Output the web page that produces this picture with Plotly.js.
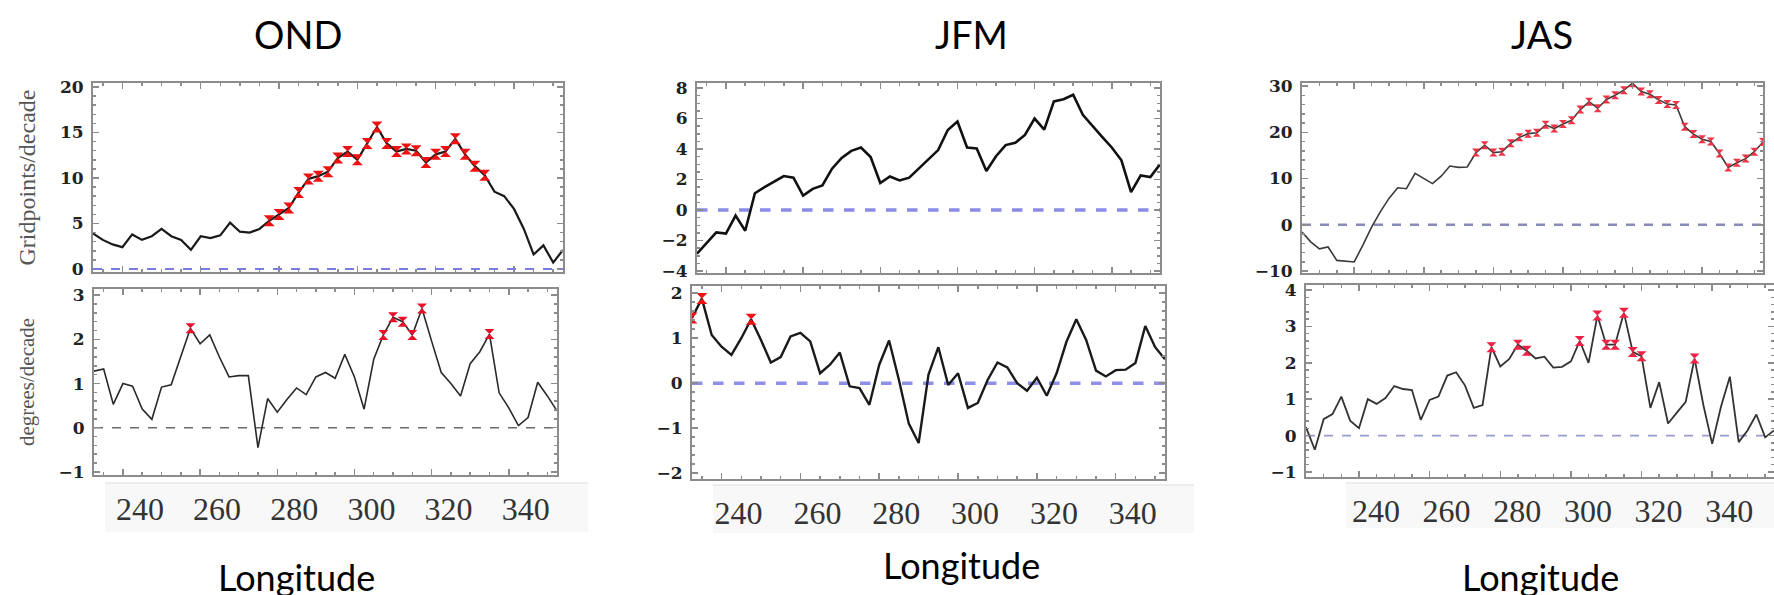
<!DOCTYPE html>
<html>
<head>
<meta charset="utf-8">
<script src="https://cdn.plot.ly/plotly-3.0.1.min.js"></script>
<style>
  html, body { margin: 0; padding: 0; background: #ffffff; }
  #chart { width: 1774px; height: 595px; }
</style>
</head>
<body>
<div id="chart"></div>
<script>
// ---------------- DATA ----------------
const seasons = ["OND", "JFM", "JAS"];
const xTitle = "Longitude";
const topTitle = "Gridpoints/decade";
const bottomTitle = "degrees/decade";
const xTickVals = [240, 260, 280, 300, 320, 340];

// longitudes (OND, JFM)
const lonA = [232.5,235,237.5,240,242.5,245,247.5,250,252.5,255,257.5,260,262.5,265,267.5,270,272.5,275,277.5,280,
  282.5,285,287.5,290,292.5,295,297.5,300,302.5,305,307.5,310,312.5,315,317.5,320,322.5,325,327.5,330,
  332.5,335,337.5,340,342.5,345,347.5,350,352.5];
// longitudes (JAS)
const lonJAS = [225,227.5,230,232.5,235,237.5,240,242.5,245,247.5,250,252.5,255,257.5,260,262.5,265,267.5,270,272.5,
  275,277.5,280,282.5,285,287.5,290,292.5,295,297.5,300,302.5,305,307.5,310,312.5,315,317.5,320,322.5,
  325,327.5,330,332.5,335,337.5,340,342.5,345,347.5,350,352.5,355,357.5];

// OND
const ondGrid = [3.9,3.2,2.7,2.4,3.8,3.2,3.6,4.4,3.6,3.2, 2.1,3.6,3.4,3.7,5.1,4.1,4.0,4.4,5.3,6.0,
  6.7,8.4,9.9,10.2,10.7,12.2,12.9,12.0,13.8,15.6, 13.8,12.9,13.2,13.0,11.7,12.6,12.9,14.3,12.6,11.3,
  10.3,8.5,8.0,6.6,4.4,1.6,2.6,0.7,2.1];
const ondGridSig = [18,19,20,21,22,23,24,25,26,27,28,29,30,31,32,33,34,35,36,37,38,39,40];
const ondDeg = [1.28,1.33,0.53,1.0,0.94,0.42,0.19,0.92,0.97,1.6, 2.25,1.9,2.1,1.6,1.15,1.18,1.18,-0.45,0.66,0.35,
  0.64,0.9,0.75,1.15,1.25,1.12,1.66,1.15,0.42,1.55, 2.1,2.5,2.4,2.1,2.7,1.96,1.25,1.0,0.72,1.45,
  1.72,2.12,0.79,0.45,0.05,0.23,1.03,0.72,0.38];
const ondDegSig = [10,30,31,32,33,34,41];

// JFM
const jfmGrid = [-2.86,-2.13,-1.47,-1.54,-0.37,-1.36,1.1,1.5,1.85,2.23, 2.12,0.95,1.39,1.61,2.71,3.42,3.88,4.1,3.48,1.77,
  2.2,1.94,2.12,2.71,3.3,3.93,5.25,5.8,4.1,4.03, 2.56,3.53,4.26,4.41,4.92,6.0,5.27,7.12,7.27,7.56,
  6.24,5.5,4.8,4.1,3.26,1.17,2.27,2.16,3.0];
const jfmGridSig = [];
const jfmDeg = [1.45,1.88,1.07,0.81,0.63,1.0,1.42,0.96,0.46,0.58, 1.04,1.12,0.93,0.22,0.41,0.68,-0.07,-0.11,-0.48,0.41,
  0.95,0.07,-0.9,-1.33,0.19,0.8,-0.04,0.22,-0.55,-0.44, 0.07,0.46,0.35,0,-0.17,0.12,-0.28,0.22,0.92,1.42,
  0.96,0.28,0.15,0.29,0.3,0.45,1.27,0.8,0.53];
const jfmDegSig = [0,1,6];

// JAS
const jasGrid = [-1.55,-3.7,-5.2,-4.8,-7.7,-7.8,-8.05,-4.4,-0.5,2.8, 5.7,8.0,7.8,11.1,10.0,8.9,10.5,12.7,12.4,12.5,
  15.6,17.2,15.6,15.8,17.6,18.9,19.7,19.9,21.6,20.8, 21.8,22.6,24.9,26.6,25.2,27.1,28.0,29.1,30.6,28.8,
  28.2,27.0,26.1,25.9,21.2,19.6,18.5,18.0,15.4,12.4, 13.4,14.3,15.8,17.9];
const jasGridSig = [20,21,22,23,24,25,26,27,28,29,30,31,32,33,34,35,36,37,38,39,40,41,42,43,44,45,46,47,48,49,50,51,52,53];
const jasDeg = [0.23,-0.39,0.45,0.59,1.07,0.41,0.2,1.0,0.87,1.03, 1.36,1.28,1.25,0.43,0.98,1.07,1.65,1.74,1.38,0.76,
  0.84,2.43,1.9,2.1,2.5,2.33,2.12,2.17,1.87,1.89, 2.04,2.6,2.0,3.3,2.5,2.5,3.38,2.3,2.18,0.76,
  1.47,0.33,0.63,0.93,2.12,0.84,-0.23,0.8,1.62,-0.18, 0.14,0.58,-0.05,0.14];
const jasDegSig = [21,24,25,31,33,34,35,36,37,38,44];

// ---------------- STYLE / LAYOUT ----------------
const W = 1774, H = 595;
const fx = p => p / W;
const fy = p => 1 - p / H;

const panels = [
  {lon: lonA,   y: ondGrid, sig: ondGridSig, xa: 'x',  ya: 'y',  lw: 2.2, lc: '#1a1a1a', ms: 11, mc: '#ee1111'},
  {lon: lonA,   y: ondDeg,  sig: ondDegSig,  xa: 'x2', ya: 'y2', lw: 1.6, lc: '#2a2a2a', ms: 10, mc: '#e8112a'},
  {lon: lonA,   y: jfmGrid, sig: jfmGridSig, xa: 'x3', ya: 'y3', lw: 2.6, lc: '#111111', ms: 10, mc: '#ee1111'},
  {lon: lonA,   y: jfmDeg,  sig: jfmDegSig,  xa: 'x4', ya: 'y4', lw: 2.4, lc: '#1a1a1a', ms: 11, mc: '#ee1111'},
  {lon: lonJAS, y: jasGrid, sig: jasGridSig, xa: 'x5', ya: 'y5', lw: 1.6, lc: '#3a3a3a', ms: 8,  mc: '#ee3344'},
  {lon: lonJAS, y: jasDeg,  sig: jasDegSig,  xa: 'x6', ya: 'y6', lw: 1.8, lc: '#333333', ms: 10, mc: '#ee2244'}
];

const traces = [];
panels.forEach(p => {
  traces.push({
    type: 'scatter', mode: 'lines', x: p.lon, y: p.y,
    xaxis: p.xa, yaxis: p.ya,
    line: {color: p.lc, width: p.lw}, hoverinfo: 'x+y'
  });
  traces.push({
    type: 'scatter', mode: 'markers', x: p.lon,
    y: p.y.map((v, i) => p.sig.includes(i) ? v : null),
    xaxis: p.xa, yaxis: p.ya,
    marker: {symbol: 'hourglass', size: p.ms, color: p.mc, line: {width: 0}},
    hoverinfo: 'x+y'
  });
});

const frameColor = '#8c8c8c';
const common = {
  showline: true, linecolor: frameColor, linewidth: 2, mirror: 'ticks',
  ticks: 'inside', ticklen: 6, tickwidth: 1.5, tickcolor: frameColor,
  showgrid: false, zeroline: false, automargin: false, fixedrange: true
};
const yTickFont = {family: 'DejaVu Serif', size: 17, color: '#222222', weight: 'bold'};
const xTickFont = {family: 'Liberation Serif', size: 32, color: '#333333'};

function xTop(dom, range) {
  return Object.assign({}, common, {
    domain: dom, range: range, tickmode: 'array', tickvals: xTickVals,
    showticklabels: false,
    minor: {ticks: 'inside', dtick: 5, tick0: 240, ticklen: 3, tickcolor: frameColor}
  });
}
function xBot(dom, range) {
  return Object.assign({}, common, {
    domain: dom, range: range, tickmode: 'array', tickvals: xTickVals,
    showticklabels: true, tickfont: xTickFont,
    ticklabelstandoff: 5, ticklabelshift: 17, ticklabeloverflow: 'allow',
    minor: {ticks: 'inside', dtick: 5, tick0: 240, ticklen: 3, tickcolor: frameColor}
  });
}
function yAx(dom, range, dtick, anchor, title, mdt, tsize) {
  const a = Object.assign({}, common, {
    domain: dom, range: range, dtick: dtick, tick0: 0, anchor: anchor,
    tickfont: yTickFont, ticklabelstandoff: 4,
    minor: {ticks: 'inside', dtick: mdt, ticklen: 3, tickcolor: frameColor}
  });
  if (title) {
    a.title = {text: title, font: {family: 'Liberation Serif', size: tsize, color: '#555555'}, standoff: 18};
  }
  return a;
}

const rngA = [232.5, 352.5];
const rngJ = [225, 357.5];

const strips = [[105, 588, 483, 532], [713, 1194, 485, 533], [1346, 1774, 483, 528]];
const stripShapes = [];
strips.forEach(s => {
  stripShapes.push({type: 'rect', xref: 'paper', yref: 'paper', x0: fx(s[0]), x1: fx(s[1]), y0: fy(s[3]), y1: fy(s[2]),
    fillcolor: '#f8f8f8', line: {width: 0}, layer: 'below'});
  stripShapes.push({type: 'line', xref: 'paper', yref: 'paper', x0: fx(s[0]), x1: fx(s[1]), y0: fy(s[2]), y1: fy(s[2]),
    line: {color: '#ece6ee', width: 1.5}, layer: 'below'});
});

const layout = {
  width: W, height: H,
  margin: {l: 0, r: 0, t: 0, b: 0, pad: 0},
  paper_bgcolor: '#ffffff', plot_bgcolor: '#ffffff',
  showlegend: false,
  font: {family: 'Lato', color: '#000000'},
  xaxis:  Object.assign(xTop([fx(93),  fx(563)],  rngA), {anchor: 'y'}),
  xaxis2: Object.assign(xBot([fx(94),  fx(557)],  rngA), {anchor: 'y2'}),
  xaxis3: Object.assign(xTop([fx(697), fx(1160)], rngA), {anchor: 'y3'}),
  xaxis4: Object.assign(xBot([fx(692), fx(1165)], rngA), {anchor: 'y4'}),
  xaxis5: Object.assign(xTop([fx(1302), fx(1763)], rngJ), {anchor: 'y5'}),
  xaxis6: Object.assign(xBot([fx(1306), 1], rngJ), {anchor: 'y6'}),
  yaxis:  yAx([fy(272), fy(83)],  [-0.33, 20.44], 5, 'x',  topTitle, 1, 24),
  yaxis2: yAx([fy(475), fy(289)], [-1.07, 3.14],  1, 'x2', bottomTitle, 0.2, 21),
  yaxis3: yAx([fy(273), fy(83)],  [-4.13, 8.33],  2, 'x3', null, 0.5),
  yaxis4: yAx([fy(479), fy(286)], [-2.13, 2.16],  1, 'x4', null, 0.2),
  yaxis5: yAx([fy(273), fy(83)],  [-10.43, 30.65], 10, 'x5', null, 2),
  yaxis6: yAx([fy(477), fy(285)], [-1.14, 4.14],  1, 'x6', null, 0.2),
  shapes: stripShapes.concat([
    // zero lines
    {type: 'line', xref: 'x domain', yref: 'y', x0: 0, x1: 1, y0: 0, y1: 0,
     line: {color: '#7b7be0', width: 2, dash: 'dash'}},
    {type: 'line', xref: 'x2 domain', yref: 'y2', x0: 0, x1: 1, y0: 0, y1: 0,
     line: {color: '#6a6a6a', width: 1.5, dash: 'dash'}, layer: 'below'},
    {type: 'line', xref: 'x3 domain', yref: 'y3', x0: 0, x1: 1, y0: 0, y1: 0,
     line: {color: '#8a8ae8', width: 3.5, dash: 'dash'}, layer: 'below'},
    {type: 'line', xref: 'x4 domain', yref: 'y4', x0: 0, x1: 1, y0: 0, y1: 0,
     line: {color: '#8f8fe8', width: 3.5, dash: 'dash'}, layer: 'below'},
    {type: 'line', xref: 'x5 domain', yref: 'y5', x0: 0, x1: 1, y0: 0, y1: 0,
     line: {color: '#8a8ab8', width: 2.5, dash: 'dash'}, layer: 'below'},
    {type: 'line', xref: 'x6 domain', yref: 'y6', x0: 0, x1: 1, y0: 0, y1: 0,
     line: {color: '#9a9acc', width: 1.8, dash: 'dash'}, layer: 'below'}
  ]),
  annotations: [
    {text: seasons[0], xref: 'paper', yref: 'paper', x: fx(298), y: fy(34), showarrow: false,
     xanchor: 'center', yanchor: 'middle', font: {family: 'Lato', size: 38, color: '#000'}},
    {text: seasons[1], xref: 'paper', yref: 'paper', x: fx(971), y: fy(34), showarrow: false,
     xanchor: 'center', yanchor: 'middle', font: {family: 'Lato', size: 38, color: '#000'}},
    {text: seasons[2], xref: 'paper', yref: 'paper', x: fx(1542), y: fy(34), showarrow: false,
     xanchor: 'center', yanchor: 'middle', font: {family: 'Lato', size: 38, color: '#000'}},
    {text: xTitle, xref: 'paper', yref: 'paper', x: fx(296), y: fy(577), showarrow: false,
     xanchor: 'center', yanchor: 'middle', font: {family: 'Lato', size: 36, color: '#000'}},
    {text: xTitle, xref: 'paper', yref: 'paper', x: fx(962), y: fy(565), showarrow: false,
     xanchor: 'center', yanchor: 'middle', font: {family: 'Lato', size: 36, color: '#000'}},
    {text: xTitle, xref: 'paper', yref: 'paper', x: fx(1540), y: fy(577), showarrow: false,
     xanchor: 'center', yanchor: 'middle', font: {family: 'Lato', size: 36, color: '#000'}}
  ]
};

Plotly.newPlot('chart', traces, layout, {displayModeBar: false, staticPlot: true});
</script>
</body>
</html>
